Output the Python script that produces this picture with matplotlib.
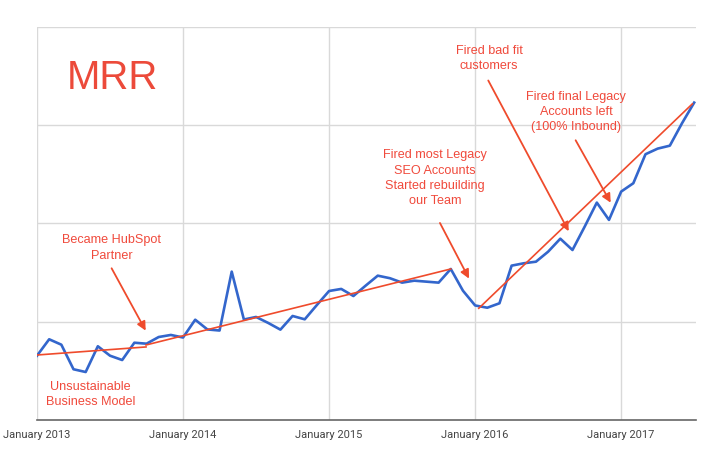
import matplotlib.pyplot as plt
import numpy as np

# monthly MRR readings, Jan 2013 .. Jul 2017 (arbitrary units, gridlines every 10)
mrr = [
    6.54, 8.21, 7.66, 5.16, 4.88, 7.50, 6.54, 6.10, 7.86, 7.76, 8.44, 8.65,
    8.39, 10.20, 9.21, 9.10, 15.09, 10.22, 10.48, 9.87, 9.19, 10.58, 10.24, 11.70,
    13.12, 13.33, 12.61, 13.66, 14.68, 14.42, 13.97, 14.17, 14.07, 13.97, 15.36, 13.15,
    11.65, 11.42, 11.87, 15.70, 15.94, 16.10, 17.12, 18.44, 17.29, 19.66, 22.11, 20.35,
    23.23, 24.08, 27.03, 27.60, 27.90, 30.18, 32.28,
]
months = np.arange(len(mrr))  # 0 = January 2013

year_ticks = [0, 12, 24, 36, 48]
year_labels = ["January 2013", "January 2014", "January 2015", "January 2016", "January 2017"]

# hand-drawn trend lines: (x0, x1) / (y0, y1) in month / value units
trend_x = [(0.0, 8.96), (8.96, 34.0), (36.3, 53.85)]
trend_y = [(6.61, 7.43), (7.63, 15.36), (11.36, 32.15)]

# annotations: text, text centre, arrow tail, arrow head
notes = [
    ("Became HubSpot\nPartner", (6.16, 17.5), (6.13, 15.43), (8.93, 9.09)),
    ("Fired most Legacy\nSEO Accounts\nStarted rebuilding\nour Team", (32.7, 24.6), (33.11, 20.04), (35.50, 14.38)),
    ("Fired bad fit\ncustomers", (37.14, 36.8), (37.08, 34.53), (43.69, 19.20)),
    ("Fired final Legacy\nAccounts left\n(100% Inbound)", (44.3, 31.34), (44.26, 28.45), (47.14, 22.10)),
    ("Unsustainable\nBusiness Model", (4.41, 2.57), None, None),
]

RED_TEXT = "#f04a3c"
RED_LINE = "#ef4b2c"
BLUE = "#3366cc"

fig = plt.figure(figsize=(7.18, 4.58), dpi=100)
ax = fig.add_axes([37 / 718, 38 / 458, (696 - 37) / 718, (420 - 26.7) / 458])

ax.set_xlim(0, 54.15)
ax.set_ylim(0, 40)

for gy in [10, 20, 30, 40]:
    ax.axhline(gy, color="#d9d9d9", lw=1, zorder=0)
for gx in year_ticks:
    ax.axvline(gx, color="#d9d9d9", lw=1, zorder=0)

ax.plot(months, mrr, color=BLUE, lw=1.9, zorder=3)

for xs, ys in zip(trend_x, trend_y):
    ax.plot(xs, ys, color=RED_LINE, lw=1.2, zorder=4)

for text, pos, tail, head in notes:
    ax.text(pos[0], pos[1], text, ha="center", va="center", color=RED_TEXT,
            fontsize=9.1, family="Liberation Sans", linespacing=1.35, zorder=5)
    if tail is not None:
        ax.annotate("", xy=head, xytext=tail,
                    arrowprops=dict(arrowstyle="-|>", color=RED_LINE, lw=1.3,
                                    mutation_scale=13, shrinkA=0, shrinkB=0),
                    zorder=5)

ax.text(2.44, 34.8, "MRR", ha="left", va="center", color="#ec4a3a",
        fontsize=29, family="Liberation Sans")

for s in ["top", "right", "left"]:
    ax.spines[s].set_visible(False)
ax.spines["bottom"].set_color("#666666")
ax.spines["bottom"].set_linewidth(1.2)
ax.set_yticks([])
ax.set_xticks(year_ticks)
ax.set_xticklabels(year_labels, family="Roboto", fontsize=8, color="#444444")
ax.tick_params(axis="x", length=0, pad=7)

fig.savefig("out.png", dpi=100)
